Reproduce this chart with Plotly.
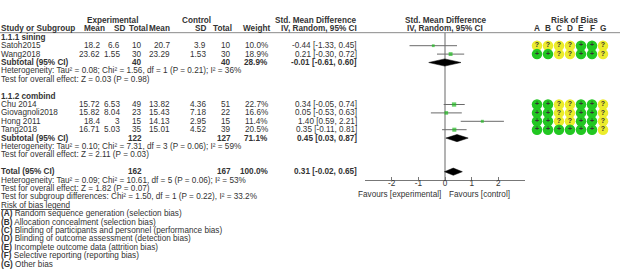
import plotly.graph_objects as go

# ---------------- data ----------------
studies = ["Satoh2015", "Wang2018", "Chu 2014", "Giovagnoli2018", "Hong 2011", "Tang2018"]
exp_mean = [18.2, 23.62, 15.72, 15.82, 18.4, 16.71]
exp_sd = [6.6, 1.55, 6.53, 8.04, 3, 5.03]
exp_n = [10, 30, 49, 23, 15, 35]
ctl_mean = [20.7, 23.29, 13.82, 15.43, 14.13, 15.01]
ctl_sd = [3.9, 1.53, 4.36, 7.18, 2.95, 4.52]
ctl_n = [10, 30, 51, 22, 15, 39]
weight = [10.0, 18.9, 22.7, 16.6, 11.4, 20.5]
smd = [-0.44, 0.21, 0.34, 0.05, 1.40, 0.35]
smd_lo = [-1.33, -0.30, -0.05, -0.53, 0.59, -0.11]
smd_hi = [0.45, 0.72, 0.74, 0.63, 2.21, 0.81]
study_rows = [3, 4, 10, 11, 12, 13]

# pooled estimates: subgroup 1, subgroup 2, overall
pool_labels = ["Subtotal (95% CI)", "Subtotal (95% CI)", "Total (95% CI)"]
pool_exp_n = [40, 122, 162]
pool_ctl_n = [40, 127, 167]
pool_weight = [28.9, 71.1, 100.0]
pool_smd = [-0.01, 0.45, 0.31]
pool_lo = [-0.61, 0.03, -0.02]
pool_hi = [0.60, 0.87, 0.65]
pool_rows = [5, 14, 18]

group_titles = ["1.1.1 sining", "1.1.2 combind"]
group_rows = [2, 9]

stat_lines = [
    "Heterogeneity: Tau² = 0.08; Chi² = 1.56, df = 1 (P = 0.21); I² = 36%",
    "Test for overall effect: Z = 0.03 (P = 0.98)",
    "Heterogeneity: Tau² = 0.10; Chi² = 7.31, df = 3 (P = 0.06); I² = 59%",
    "Test for overall effect: Z = 2.11 (P = 0.03)",
    "Heterogeneity: Tau² = 0.09; Chi² = 10.61, df = 5 (P = 0.06); I² = 53%",
    "Test for overall effect: Z = 1.82 (P = 0.07)",
    "Test for subgroup differences: Chi² = 1.50, df = 1 (P = 0.22), I² = 33.2%",
]
stat_rows = [6, 7, 15, 16, 19, 20, 21]

rob_domains = ["A", "B", "C", "D", "E", "F", "G"]
rob = [
    ["?", "?", "?", "?", "+", "+", "?"],
    ["+", "+", "?", "?", "+", "+", "?"],
    ["+", "+", "?", "?", "+", "+", "?"],
    ["+", "+", "?", "?", "+", "+", "?"],
    ["+", "+", "?", "?", "+", "+", "?"],
    ["+", "+", "+", "+", "+", "+", "?"],
]
rob_legend = [
    "Random sequence generation (selection bias)",
    "Allocation concealment (selection bias)",
    "Blinding of participants and personnel (performance bias)",
    "Blinding of outcome assessment (detection bias)",
    "Incomplete outcome data (attrition bias)",
    "Selective reporting (reporting bias)",
    "Other bias",
]

axis_ticks = [-2, -1, 0, 1, 2]
axis_ticktext = ["-2", "-1", "0", "1", "2"]

# ---------------- layout helpers ----------------
W, H = 620, 269
FONT = "Liberation Sans, Arial, sans-serif"
TXT = "#333333"
FS = 8.2


def ypix(r):
    return 20.5 + 8.4 * r


ann = []


def txt(x, r, s, anchor="left", bold=False, y=None, color=TXT, size=FS, under=False):
    f = dict(size=size, color=color, family=FONT)
    if under:
        f["lineposition"] = "under"
    ann.append(dict(
        x=x, y=ypix(r) if y is None else y, xref="x", yref="y",
        text=("<b>%s</b>" % s) if bold else s,
        showarrow=False, xanchor=anchor, yanchor="middle",
        borderpad=0, borderwidth=0, font=f))


# column right edges (layout): values / headers
C_MEAN_E, C_SD_E, C_N_E = 100, 120, 142
C_MEAN_C, C_SD_C, C_N_C = 170, 206, 231
C_W, C_CI = 268, 357
H_MEAN_E, H_SD_E, H_N_E = 105, 125, 148
H_MEAN_C, H_SD_C, H_N_C = 170, 206, 232
FOREST_L, FOREST_R = 365, 525
ROB_X0, ROB_DX = 537, 11
AXIS_Y = 180

# headers
txt(112, 0, "Experimental", "center", True)
txt(196, 0, "Control", "center", True)
txt(C_CI - 1, 0, "Std. Mean Difference", "right", True)
txt(445, 0, "Std. Mean Difference", "center", True)
txt(574, 0, "Risk of Bias", "center", True)
txt(1, 1, "Study or Subgroup", "left", True)
txt(H_MEAN_E, 1, "Mean", "right", True)
txt(H_SD_E, 1, "SD", "right", True)
txt(H_N_E, 1, "Total", "right", True)
txt(H_MEAN_C, 1, "Mean", "right", True)
txt(H_SD_C, 1, "SD", "right", True)
txt(H_N_C, 1, "Total", "right", True)
txt(C_W + 2, 1, "Weight", "right", True)
txt(C_CI, 1, "IV, Random, 95% CI", "right", True)
txt(445, 1, "IV, Random, 95% CI", "center", True)
for k, d in enumerate(rob_domains):
    txt(ROB_X0 + ROB_DX * k, 1, d, "center", True)

for t, r in zip(group_titles, group_rows):
    txt(1, r, t, "left", True)

for i, s in enumerate(studies):
    r = study_rows[i]
    txt(1, r, s)
    txt(C_MEAN_E, r, str(exp_mean[i]), "right")
    txt(C_SD_E, r, str(exp_sd[i]), "right")
    txt(C_N_E, r, str(exp_n[i]), "right")
    txt(C_MEAN_C, r, str(ctl_mean[i]), "right")
    txt(C_SD_C, r, str(ctl_sd[i]), "right")
    txt(C_N_C, r, str(ctl_n[i]), "right")
    txt(C_W, r, "%.1f%%" % weight[i], "right")
    txt(C_CI, r, "%.2f [%.2f, %.2f]" % (smd[i], smd_lo[i], smd_hi[i]), "right")

for j, lab in enumerate(pool_labels):
    r = pool_rows[j]
    txt(1, r, lab, "left", True)
    txt(C_N_E, r, str(pool_exp_n[j]), "right", True)
    txt(C_N_C, r, str(pool_ctl_n[j]), "right", True)
    txt(C_W, r, "%.1f%%" % pool_weight[j], "right", True)
    txt(C_CI, r, "%.2f [%.2f, %.2f]" % (pool_smd[j], pool_lo[j], pool_hi[j]), "right", True)

for s, r in zip(stat_lines, stat_rows):
    txt(1, r, s)

txt(1, 22, "Risk of bias legend", under=True)
for k, s in enumerate(rob_legend):
    txt(1, 23 + k, "<b>(%s)</b> %s" % (rob_domains[k], s))

txt(441, 0, "Favours [experimental]", "right", y=194.5)
txt(449, 0, "Favours [control]", "left", y=194.5)

fig = go.Figure()

# zero line (forest axis x2)
fig.add_trace(go.Scatter(x=[0, 0], y=[ypix(1.45), AXIS_Y], mode="lines",
                         line=dict(color="#a0a0a0", width=1.6),
                         xaxis="x2", yaxis="y", hoverinfo="skip"))

# confidence intervals
cx, cy = [], []
for i in range(len(studies)):
    y = ypix(study_rows[i])
    cx += [smd_lo[i], smd_hi[i], None]
    cy += [y, y, None]
fig.add_trace(go.Scatter(x=cx, y=cy, mode="lines", line=dict(color="#6a6a6a", width=1),
                         xaxis="x2", yaxis="y", hoverinfo="skip"))

# study squares (size by weight)
fig.add_trace(go.Scatter(
    x=smd, y=[ypix(r) for r in study_rows], mode="markers",
    marker=dict(symbol="square", color="#22bb22",
                size=[1.6 + 0.12 * w for w in weight], line=dict(width=0)),
    xaxis="x2", yaxis="y", hoverinfo="skip"))

# diamonds
for j in range(len(pool_smd)):
    y = ypix(pool_rows[j])
    h = 3.6
    fig.add_trace(go.Scatter(
        x=[pool_lo[j], pool_smd[j], pool_hi[j], pool_smd[j], pool_lo[j]],
        y=[y, y - h, y, y + h, y], mode="lines", fill="toself",
        fillcolor="black", line=dict(color="black", width=0.5),
        xaxis="x2", yaxis="y", hoverinfo="skip"))

# risk of bias circles
rx, ry, rc, rt = [], [], [], []
for i, row in enumerate(rob):
    for k, v in enumerate(row):
        rx.append(ROB_X0 + ROB_DX * k)
        ry.append(ypix(study_rows[i]))
        rc.append("#22c722" if v == "+" else "#ecec2c")
        rt.append("<b>%s</b>" % v)
fig.add_trace(go.Scatter(
    x=rx, y=ry, mode="markers+text", text=rt, textposition="middle center",
    textfont=dict(size=7, color="#333333", family=FONT),
    marker=dict(size=10.5, color=rc, line=dict(width=0)),
    xaxis="x", yaxis="y", hoverinfo="skip"))

shapes = [
    dict(type="line", xref="x", yref="y", x0=0, x1=620, y0=ypix(1.45), y1=ypix(1.45),
         line=dict(color="#8a8a8a", width=1)),
]

fig.update_layout(
    width=W, height=H, margin=dict(l=0, r=0, t=0, b=0),
    paper_bgcolor="white", plot_bgcolor="white", showlegend=False,
    annotations=ann, shapes=shapes,
    xaxis=dict(domain=[0, 1], range=[0, W], anchor="y", visible=False, fixedrange=True),
    xaxis2=dict(domain=[FOREST_L / W, FOREST_R / W], range=[-3, 3],
                anchor="free", position=1 - AXIS_Y / H,
                showgrid=False, zeroline=False, showline=True,
                linecolor="#777777", linewidth=1,
                tickvals=axis_ticks, ticktext=axis_ticktext,
                ticks="inside", ticklen=3, tickcolor="#777777", tickwidth=1,
                ticklabelstandoff=-5,
                tickfont=dict(size=FS, color=TXT, family=FONT), fixedrange=True),
    yaxis=dict(domain=[0, 1], range=[H, 0], visible=False, fixedrange=True),
)

fig.write_html("out.html", config={"displayModeBar": False, "staticPlot": True})
